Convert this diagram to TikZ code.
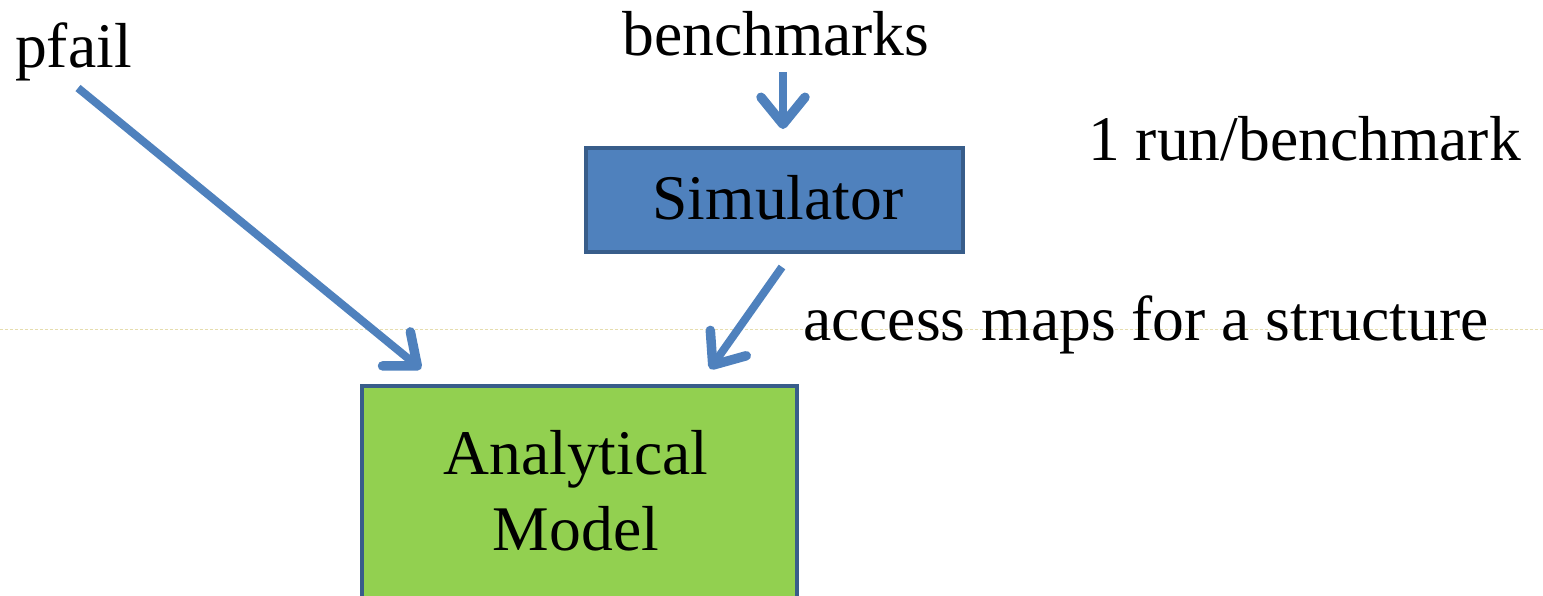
\documentclass[tikz,border=0pt]{standalone}
\usepackage{fontspec}
\setmainfont{Liberation Serif}
\usetikzlibrary{arrows.meta}
\definecolor{arrowblue}{HTML}{4F81BD}
\definecolor{simfill}{HTML}{4F81BD}
\definecolor{boxedge}{HTML}{385D8A}
\definecolor{modelfill}{HTML}{92D050}
\definecolor{guide}{HTML}{E6DDAE}
\tikzset{
  lbl/.style={font=\fontsize{63.6}{76}\selectfont, inner sep=0pt, text=black},
  conn/.style={draw=arrowblue, line width=8pt, -{Straight Barb[length=27pt, width=44pt, line width=9.5pt, round]}},
  blk/.style={draw=boxedge, line width=4pt},
}
\begin{document}
\begin{tikzpicture}[x=1pt,y=-1pt]
\useasboundingbox (0,0) rectangle (1543,595);
\begin{scope}
\clip (0,0) rectangle (1543,595);
\draw[guide, line width=1pt, dash pattern=on 3pt off 2pt] (0,329) -- (1543,329);
\draw[blk, fill=simfill] (586,148) rectangle (963,252);
\draw[blk, fill=modelfill] (362,386) rectangle (797,620);
\end{scope}
\node[lbl, anchor=center] (sim) at (778,198) {Simulator};
\node[lbl, anchor=base] (ana) at (576,474) {Analytical};
\node[lbl, anchor=base] (mod) at (576,550) {Model};
\node[lbl, anchor=base west] (pfail) at (15,67) {pfail};
\node[lbl, anchor=base west] (bench) at (622,55) {benchmarks};
\node[lbl, anchor=base west] (run) at (1088,160) {1 run/benchmark};
\node[lbl, anchor=base west] (acc) at (803,340) {access maps for a structure};
\coordinate (p1) at (78,88);
\coordinate (p2) at (421,369);
\coordinate (b1) at (783,72);
\coordinate (b2) at (783,129);
\coordinate (s1) at (782,267);
\coordinate (s2) at (710,369);
\draw[conn] (p1) -- (p2);
\draw[conn] (b1) -- (b2);
\draw[conn] (s1) -- (s2);
\end{tikzpicture}
\end{document}
